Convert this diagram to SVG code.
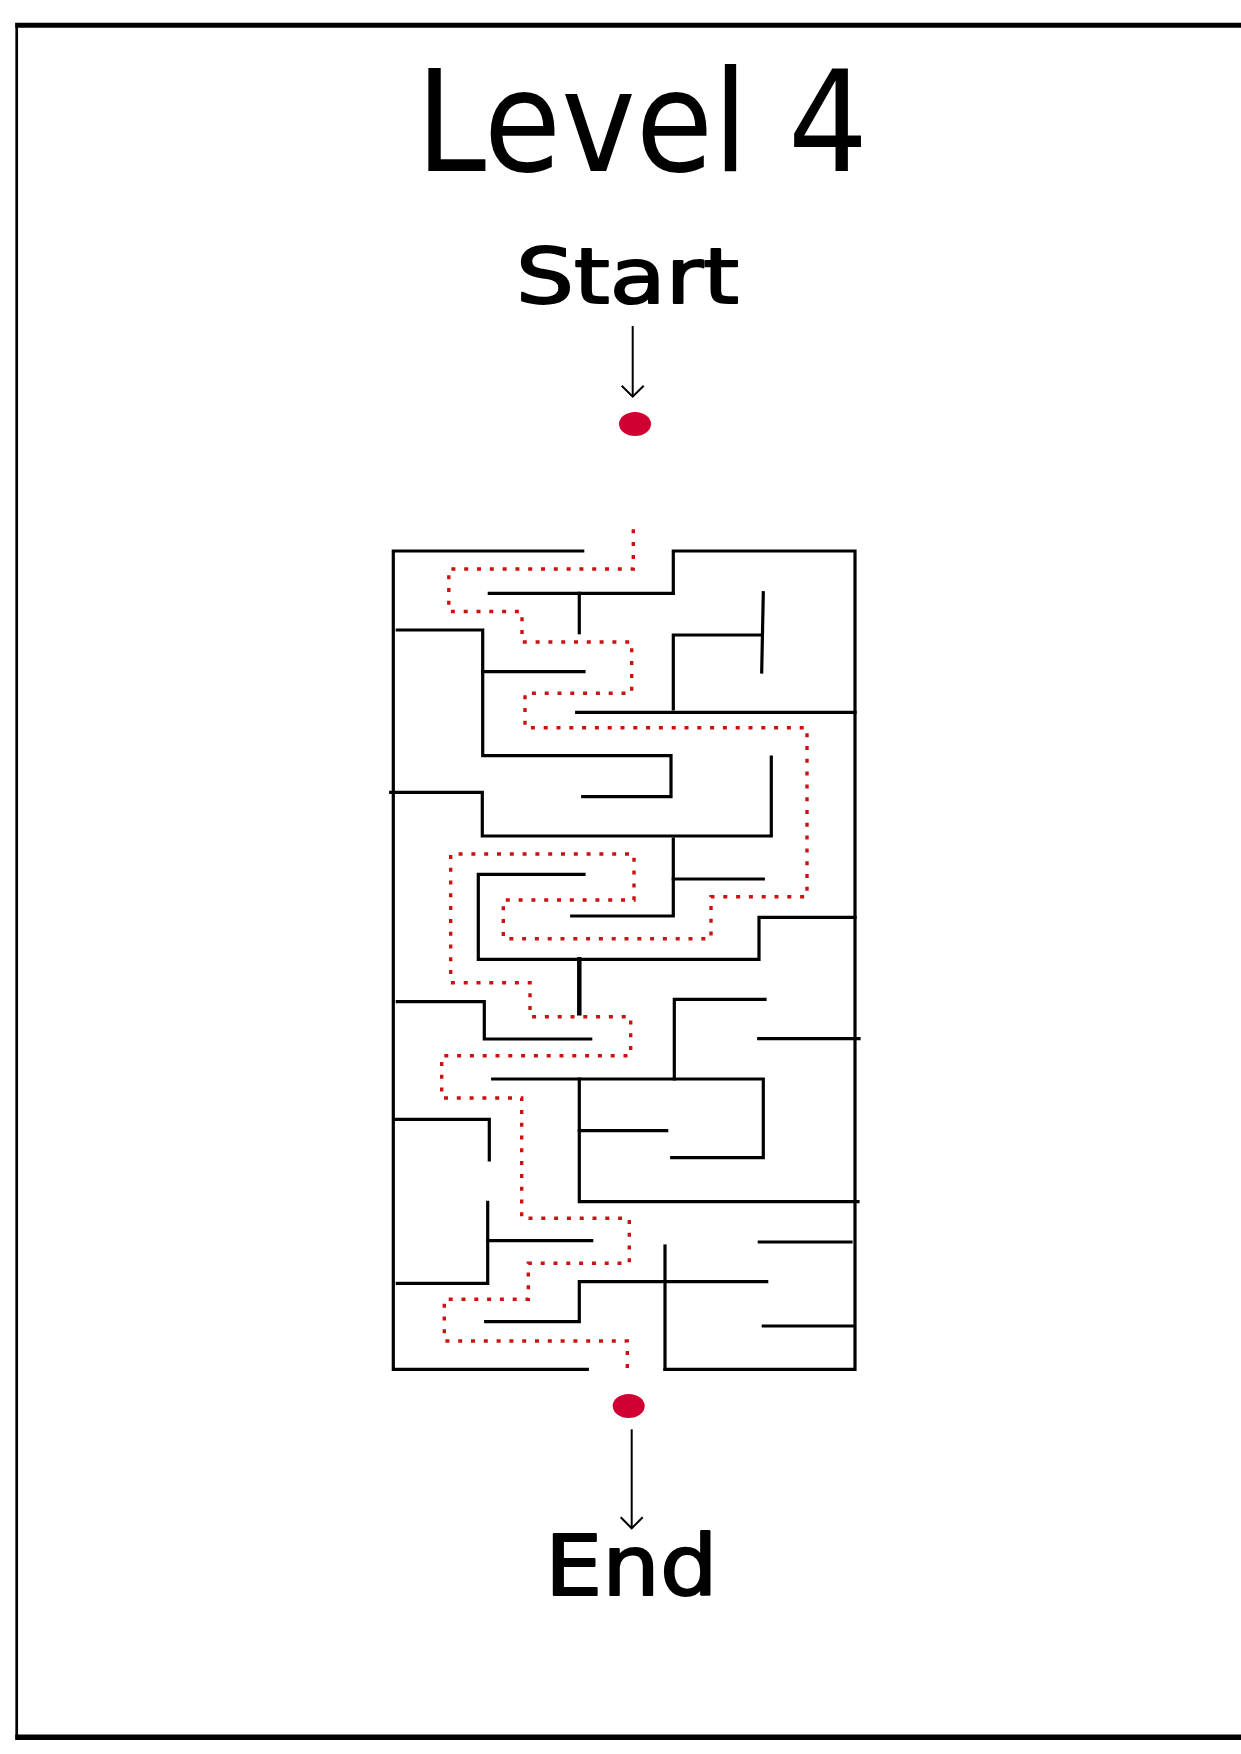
<svg xmlns="http://www.w3.org/2000/svg" width="1241" height="1754" viewBox="0 0 1241 1754">
<style>
.t{font-family:"DejaVu Sans","Verdana",sans-serif;fill:#000}
.bold{stroke:#000;stroke-width:2;stroke-linejoin:round}
.w{stroke:#000;stroke-width:3.2;fill:none;stroke-linecap:square}
.sol{stroke:#cc1111;stroke-width:3.4;fill:none;stroke-dasharray:4 8.8}
.dot{fill:#d10032}
.arr{stroke:#000;stroke-width:2;fill:none}
</style>
<defs>
<marker id="chev" markerUnits="userSpaceOnUse" orient="auto" refX="0" refY="0" markerWidth="30" markerHeight="30" viewBox="-15 -15 30 30" overflow="visible">
<path d="M -11 -11 L 0 0 L -11 11" stroke="#000" stroke-width="2" fill="none"/>
</marker>
</defs>
<rect width="1241" height="1754" fill="#fff"/>
<g id="page-border">
<line x1="15.3" y1="25.3" x2="1241" y2="25.3" stroke="#000" stroke-width="5"/>
<line x1="16.7" y1="23" x2="16.7" y2="1739.5" stroke="#000" stroke-width="2.7"/>
<line x1="15.3" y1="1737.2" x2="1241" y2="1737.2" stroke="#000" stroke-width="5.6"/>
</g>
<g id="title"><text class="t" x="416" y="170.7" font-size="140" textLength="452" lengthAdjust="spacingAndGlyphs">Level 4</text></g>
<g id="start-label"><text class="t bold" x="516" y="303" font-size="77" textLength="223" lengthAdjust="spacingAndGlyphs">Start</text></g>
<g id="start-dot"><ellipse class="dot" cx="635" cy="424" rx="16" ry="12"/></g>
<g id="end-dot"><ellipse class="dot" cx="628.7" cy="1406" rx="16" ry="12"/></g>
<g id="end-label"><text class="t bold" x="545" y="1595" font-size="83" textLength="172.5" lengthAdjust="spacingAndGlyphs">End</text></g>
<g id="maze" class="w">
<path d="M582.7 551 H393.3 V1369.3 H587.3"/>
<path d="M673.3 593.3 V551 H855 V1369.3 H665"/>
<path d="M489.3 593.3 H673.3"/>
<path d="M579.3 593.3 V632.7"/>
<path d="M397.3 630 H482.7 V755.7 H671 V796.7 H582.7"/>
<path d="M482.7 671.7 H584"/>
<path d="M673.3 709 V635 H762"/>
<path d="M763.3 592.7 L761.7 672"/>
<path d="M576.7 712.3 H855"/>
<path d="M390.7 792.3 H482.3 V836 H771.3 V757"/>
<path d="M673.3 839 V916 H571.7"/>
<path d="M673.3 879 H763.3"/>
<path d="M584 874.3 H478.3 V959.3 H759 V917.3 H855"/>
<path d="M579.3 959.3 V1013.3" stroke-width="4.5"/>
<path d="M397.3 1001.7 H484.3 V1039 H590.7"/>
<path d="M674.3 1079 V999.3 H765"/>
<path d="M758.7 1038.7 H859"/>
<path d="M492.7 1079 H763.3 V1157.7 H671.7"/>
<path d="M579.3 1079 V1201.7 H858"/>
<path d="M579.3 1130.7 H666.7"/>
<path d="M395 1119.3 H489.3 V1160"/>
<path d="M487.7 1202.3 V1283.3 H397.3"/>
<path d="M487.7 1240.7 H591.7"/>
<path d="M759.3 1242 H851"/>
<path d="M665 1246 V1369.3"/>
<path d="M766.7 1281.7 H579.3 V1321.7 H485.7"/>
<path d="M763.3 1326 H852.3"/>
</g>
<g id="connectors">
<line class="arr" x1="632.7" y1="326" x2="632.7" y2="396.7" marker-end="url(#chev)"/>
<line class="arr" x1="631.7" y1="1429.3" x2="631.7" y2="1528.3" marker-end="url(#chev)"/>
<path class="sol" d="M633.3 529.3 V569 H448.8 V611.5 H522 V642 H631.7 V693.3 H525 V727.7 H807 V896.7 H711 V938.7 H503.3 V900 H634 V854 H450.7 V982.7 H530 V1016.7 H630.7 V1055.7 H441.7 V1098 H521.7 V1218.3 H629.3 V1263.3 H528.3 V1299.3 H444.3 V1341 H627.3 V1373.3"/>
</g>
</svg>
